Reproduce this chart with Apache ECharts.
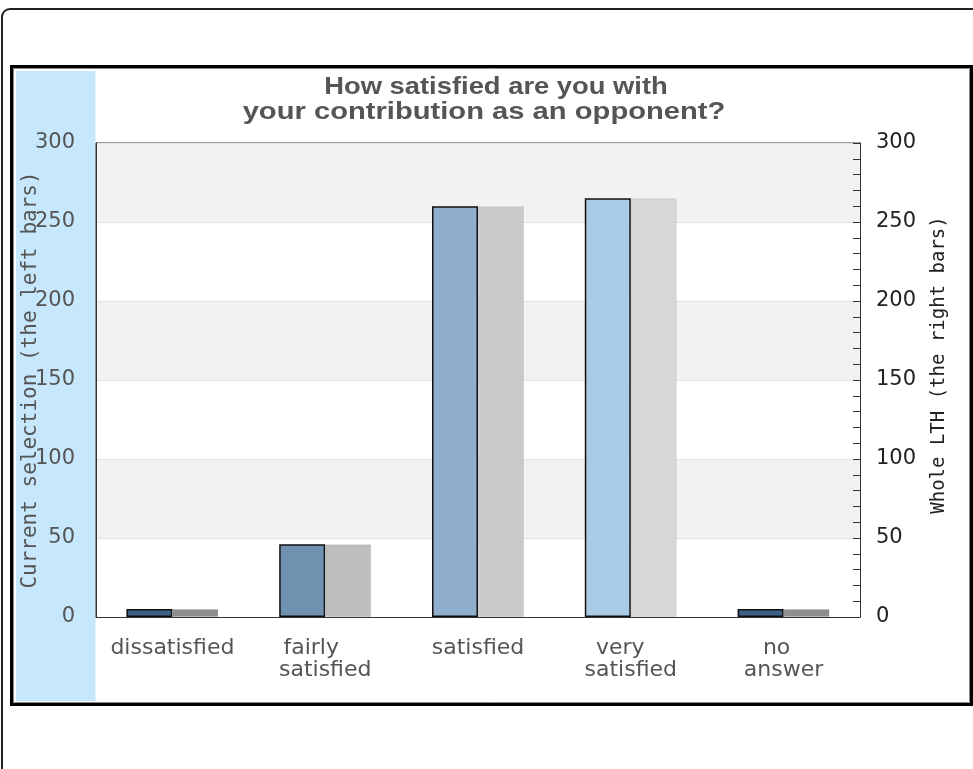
<!DOCTYPE html>
<html>
<head>
<meta charset="utf-8">
<script src="https://cdn.jsdelivr.net/npm/echarts@6/dist/echarts.min.js"></script>
<style>
html,body{margin:0;padding:0;background:#fff;}
#chart{width:973px;height:769px;}
</style>
</head>
<body>
<div id="chart"></div>
<script>
var titleLines = ['How satisfied are you with', 'your contribution as an opponent?'];
var categories = ['dissatisfied', 'fairly    \nsatisfied', 'satisfied', 'very   \nsatisfied', 'no  \nanswer'];
var currentValues = [5, 46, 260, 265, 5];
var wholeValues = [5, 46, 260, 265, 5];
var currentColors = ['#3e6285', '#7092b0', '#8eaecb', '#a9cbe6', '#3e6285'];
var wholeColors = ['#8f8f8f', '#bebebe', '#c9c9c9', '#d7d7d7', '#8f8f8f'];
var leftAxisName = 'Current selection (the left bars)';
var rightAxisName = 'Whole LTH (the right bars)';
var axisMin = 0, axisMax = 300, axisInterval = 50;

var chart = echarts.init(document.getElementById('chart'), null, {renderer: 'canvas'});

var option = {
  animation: false,
  backgroundColor: '#ffffff',
  graphic: [
    {type: 'rect', z: -10, shape: {x: 2, y: 9, width: 1000, height: 1000, r: 8}, style: {fill: '#fff', stroke: '#222', lineWidth: 2}},
    {type: 'rect', z: -9, shape: {x: 11.5, y: 66.5, width: 960, height: 638}, style: {fill: '#fff', stroke: '#000', lineWidth: 3}},
    {type: 'rect', z: -9, shape: {x: 13.5, y: 68.5, width: 956, height: 634}, style: {fill: 'none', stroke: '#888', lineWidth: 1}},
    {type: 'rect', z: -8, shape: {x: 16, y: 71, width: 79.5, height: 630}, style: {fill: '#c6e7fc'}},
    {type: 'text', x: 496, y: 87, scaleX: 1.14, z: 10,
      style: {x: 0, y: 0, text: titleLines[0], fill: '#555', font: 'bold 24px "Liberation Sans", Arial, sans-serif', textAlign: 'center', textVerticalAlign: 'middle'}},
    {type: 'text', x: 484, y: 112, scaleX: 1.215, z: 10,
      style: {x: 0, y: 0, text: titleLines[1], fill: '#555', font: 'bold 24px "Liberation Sans", Arial, sans-serif', textAlign: 'center', textVerticalAlign: 'middle'}},
    {type: 'text', x: 939, y: 365, rotation: Math.PI / 2, z: 10,
      style: {x: 0, y: 0, text: rightAxisName, fill: '#222', font: '19px "DejaVu Sans Mono", monospace', textAlign: 'center', textVerticalAlign: 'middle'}}
  ],
  grid: {
    left: 96, top: 143, right: 113, bottom: 152,
    containLabel: false, outerBoundsMode: 'none',
    show: true, borderColor: '#333', borderWidth: 1, backgroundColor: 'transparent'
  },
  xAxis: {
    type: 'category',
    data: categories,
    axisLine: {show: true, lineStyle: {color: '#333', width: 1}},
    axisTick: {show: false},
    axisLabel: {color: '#555', fontSize: 22, fontFamily: '"DejaVu Sans", sans-serif', margin: 20, lineHeight: 22, interval: 0}
  },
  yAxis: [
    {
      type: 'value', min: axisMin, max: axisMax, interval: axisInterval, position: 'left',
      name: leftAxisName, nameLocation: 'middle', nameRotate: 90, nameGap: 55, nameMoveOverlap: false,
      nameTextStyle: {color: '#555', fontSize: 21, fontFamily: '"DejaVu Sans Mono", monospace'},
      axisLine: {show: true, lineStyle: {color: '#333'}},
      axisTick: {show: false},
      axisLabel: {color: '#555', fontSize: 21, fontFamily: '"DejaVu Sans", sans-serif', margin: 21},
      splitLine: {show: true, lineStyle: {color: '#e2e2e2', width: 1}},
      splitArea: {show: true, areaStyle: {color: ['#ffffff', '#f2f2f2']}}
    },
    {
      type: 'value', min: axisMin, max: axisMax, interval: axisInterval, position: 'right',
      axisLine: {show: true, lineStyle: {color: '#333'}},
      axisTick: {show: true, inside: true, length: 7, lineStyle: {color: '#333'}},
      minorTick: {show: true, splitNumber: 5, length: 7, lineStyle: {color: '#333'}},
      axisLabel: {color: '#222', fontSize: 21, fontFamily: '"DejaVu Sans", sans-serif', margin: 16},
      splitLine: {show: false},
      splitArea: {show: false}
    }
  ],
  series: [
    {
      name: 'Current selection', type: 'bar', yAxisIndex: 0,
      barWidth: 46, barGap: '0%',
      data: currentValues.map(function (v, i) {
        return {value: v, itemStyle: {color: currentColors[i]}};
      }),
      itemStyle: {borderColor: '#111', borderWidth: 1.5}
    },
    {
      name: 'Whole LTH', type: 'bar', yAxisIndex: 1,
      barWidth: 46, barGap: '0%',
      data: wholeValues.map(function (v, i) {
        return {value: v, itemStyle: {color: wholeColors[i]}};
      }),
      itemStyle: {borderColor: 'rgba(0,0,0,0.07)', borderWidth: 1}
    }
  ]
};
chart.setOption(option);
</script>
</body>
</html>
